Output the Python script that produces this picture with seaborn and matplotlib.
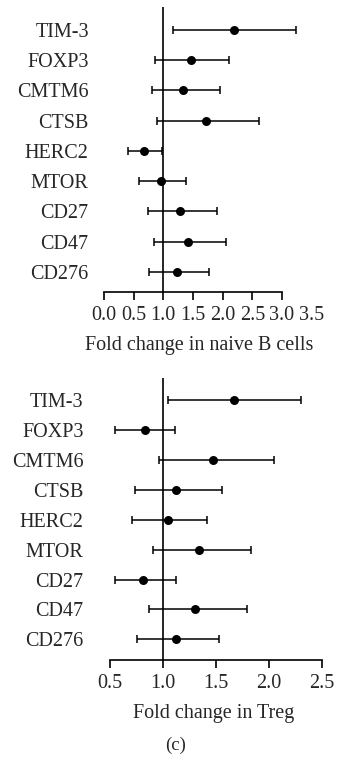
import matplotlib
matplotlib.use("Agg")
import matplotlib.pyplot as plt
import seaborn as sns
import pandas as pd
import numpy as np

genes = ["TIM-3", "FOXP3", "CMTM6", "CTSB", "HERC2", "MTOR", "CD27", "CD47", "CD276"]

b_fc = [2.20, 1.47, 1.34, 1.72, 0.67, 0.96, 1.28, 1.41, 1.23]
b_lo = [1.155, 0.86, 0.81, 0.89, 0.41, 0.59, 0.74, 0.85, 0.76]
b_hi = [3.23, 2.10, 1.96, 2.61, 0.97, 1.38, 1.91, 2.05, 1.77]

t_fc = [1.675, 0.83, 1.476, 1.127, 1.05, 1.344, 0.815, 1.30, 1.12]
t_lo = [1.045, 0.547, 0.96, 0.733, 0.71, 0.91, 0.547, 0.865, 0.755]
t_hi = [2.305, 1.11, 2.05, 1.56, 1.42, 1.83, 1.12, 1.79, 1.53]

b_ticks = [0.0, 0.5, 1.0, 1.5, 2.0, 2.5, 3.0, 3.5]
t_ticks = [0.5, 1.0, 1.5, 2.0, 2.5]

sns.set_theme(style="white")
plt.rcParams["font.family"] = ["Liberation Serif", "DejaVu Serif"]
FS = 14.5

W, H = 339, 761
fig = plt.figure(figsize=(W / 100, H / 100), dpi=100)


def panel(rect, fc, lo, hi, ticks, xlim, spine_hi, ylim, xlabel, ypad, label_x):
    ax = fig.add_axes(rect)
    df = pd.DataFrame({"gene": genes, "fc": fc, "lo": lo, "hi": hi})
    df["pos"] = np.arange(len(genes))
    ax.errorbar(df["fc"], df["pos"], xerr=[df["fc"] - df["lo"], df["hi"] - df["fc"]],
                fmt="none", ecolor="black", elinewidth=1.1, capsize=3.0, capthick=1.1, zorder=2)
    sns.scatterplot(data=df, x="fc", y="pos", ax=ax, color="black", s=42,
                    edgecolor="black", linewidth=0, zorder=3)
    ax.axvline(1.0, color="black", lw=1.2, zorder=1)
    ax.set_xlim(*xlim)
    ax.set_ylim(*ylim)
    ax.set_yticks(df["pos"])
    ax.set_yticklabels(genes, fontsize=FS)
    ax.set_xticks(ticks)
    ax.set_xticklabels([f"{t:.1f}" for t in ticks], fontsize=FS)
    for s in ["left", "right", "top"]:
        ax.spines[s].set_visible(False)
    ax.spines["bottom"].set_color("black")
    ax.spines["bottom"].set_linewidth(1.2)
    ax.spines["bottom"].set_bounds(ticks[0], spine_hi)
    ax.tick_params(axis="x", direction="out", length=6, width=1.2, color="black", pad=4,
                   bottom=True)
    ax.tick_params(axis="y", length=0, pad=ypad)
    ticks_objs = ax.xaxis.get_major_ticks()
    for t, v in zip(ticks_objs, ticks):
        if v > spine_hi:
            t.tick1line.set_visible(False)
    ax.set_xlabel(xlabel, fontsize=FS)
    ax.xaxis.set_label_coords(label_x, -0.155)
    ax.set_ylabel("")
    ax.grid(False)
    return ax


panel([104 / W, 1 - 292 / H, (311.6 - 104) / W, (292 - 7) / H],
      b_fc, b_lo, b_hi, b_ticks, (0.0, 3.5), 3.0, (8.67, -0.76),
      "Fold change in naive B cells", 11, 0.458)

panel([110 / W, 1 - 660 / H, (321.7 - 110) / W, (660 - 378.3) / H],
      t_fc, t_lo, t_hi, t_ticks, (0.5, 2.5), 2.5, (8.69, -0.73),
      "Fold change in Treg", 19, 0.49)

fig.text(176 / W, 1 - 745 / H, "(c)", ha="center", va="center", fontsize=FS - 1)

fig.savefig("out.png", dpi=100)
